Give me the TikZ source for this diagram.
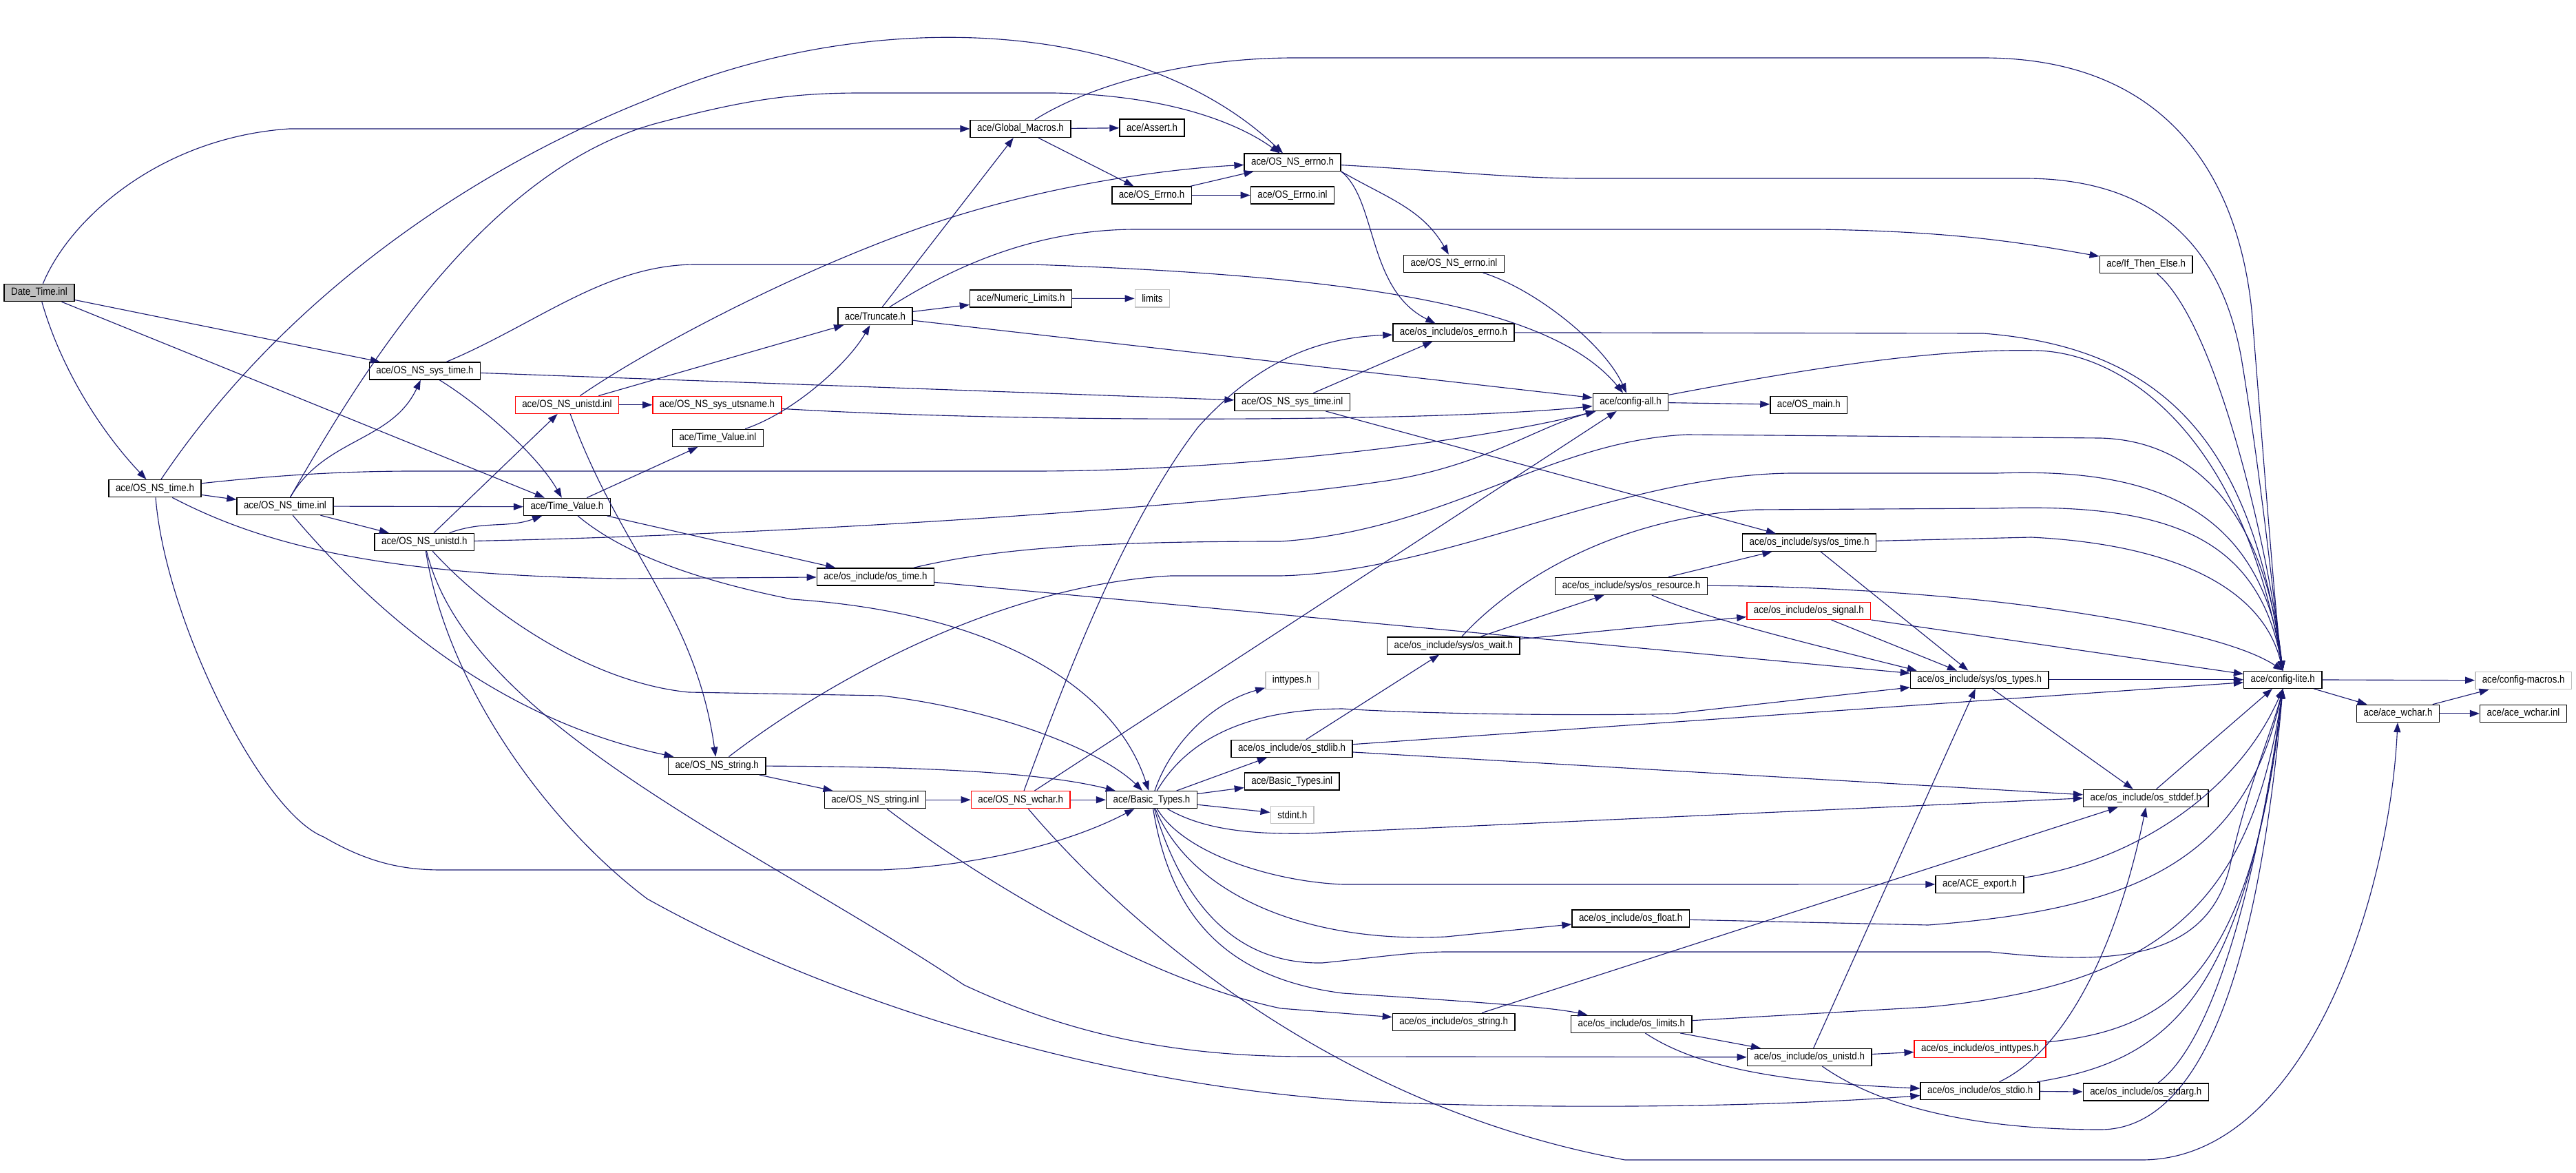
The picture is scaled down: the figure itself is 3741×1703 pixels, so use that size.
\documentclass[tikz,border=0pt]{standalone}
\usepackage{fontspec}
\newfontfamily\dotfont{Liberation Sans}[FakeStretch=0.88]
\usetikzlibrary{arrows.meta}
\definecolor{EdgeClr}{RGB}{25,25,112}
\definecolor{ExtClr}{RGB}{191,191,191}
\definecolor{BrokenClr}{RGB}{255,0,0}

\begin{document}
\begin{tikzpicture}[x=0.01cm,y=-0.01cm,
  file/.style={draw=black,line width=0.4pt,fill=white,inner xsep=1mm,inner ysep=0pt,
    minimum height=2.5mm,font=\dotfont\fontsize{4.3}{5}\selectfont},
  redfile/.style={file,draw=BrokenClr},
  extfile/.style={file,draw=ExtClr},
  mainfile/.style={file,fill=ExtClr},
  dep/.style={draw=EdgeClr,line width=0.32pt,-{Triangle[length=1.4mm,width=1mm]}}]
\useasboundingbox (0,0) rectangle (3741,1703);

\node[mainfile] (dt) at (57,425) {Date\_Time.inl};
\node[file] (nssystimeh) at (617,538.5) {ace/OS\_NS\_sys\_time.h};
\node[file] (gmacros) at (1482,187) {ace/Global\_Macros.h};
\node[file] (assert) at (1673,185.4) {ace/Assert.h};
\node[file] (nserrnoh) at (1877,235.7) {ace/OS\_NS\_errno.h};
\node[file] (errnoh) at (1672.5,283.5) {ace/OS\_Errno.h};
\node[file] (errnoinl) at (1877,283.5) {ace/OS\_Errno.inl};
\node[file] (nserrnoinl) at (2111.5,382.8) {ace/OS\_NS\_errno.inl};
\node[file] (ifthen) at (3116.6,383.9) {ace/If\_Then\_Else.h};
\node[file] (numlim) at (1482.5,433.5) {ace/Numeric\_Limits.h};
\node[extfile] (limits) at (1673.4,433.3) {limits};
\node[file] (trunc) at (1271,459) {ace/Truncate.h};
\node[file] (oserrno) at (2111,482.7) {ace/os\_include/os\_errno.h};
\node[redfile] (nsunistdinl) at (823.4,587.8) {ace/OS\_NS\_unistd.inl};
\node[redfile] (utsname) at (1041.5,587.8) {ace/OS\_NS\_sys\_utsname.h};
\node[file] (nssystimeinl) at (1876.7,583.8) {ace/OS\_NS\_sys\_time.inl};
\node[file] (configall) at (2368,583.8) {ace/config-all.h};
\node[file] (osmain) at (2626.8,587.8) {ace/OS\_main.h};
\node[file] (tvinl) at (1042.4,635.8) {ace/Time\_Value.inl};
\node[file] (nstimeh) at (225,709.2) {ace/OS\_NS\_time.h};
\node[file] (nstimeinl) at (414,735) {ace/OS\_NS\_time.inl};
\node[file] (tvh) at (823.4,735.8) {ace/Time\_Value.h};
\node[file] (nsunistdh) at (616.3,786.9) {ace/OS\_NS\_unistd.h};
\node[file] (ostime) at (1271.4,837.4) {ace/os\_include/os\_time.h};
\node[file] (systime) at (2627.6,787.7) {ace/os\_include/sys/os\_time.h};
\node[file] (resource) at (2369,850.8) {ace/os\_include/sys/os\_resource.h};
\node[redfile] (signal) at (2626.8,886.8) {ace/os\_include/os\_signal.h};
\node[file] (wait) at (2110.9,937.3) {ace/os\_include/sys/os\_wait.h};
\node[extfile] (inttypes) at (1876.4,987.9) {inttypes.h};
\node[file] (systypes) at (2874.7,986.8) {ace/os\_include/sys/os\_types.h};
\node[file] (configlite) at (3315.2,986.8) {ace/config-lite.h};
\node[extfile] (macros) at (3664.7,987.9) {ace/config-macros.h};
\node[file] (acewchar) at (3482.6,1035.9) {ace/ace\_wchar.h};
\node[file] (acewcharinl) at (3664.5,1035.9) {ace/ace\_wchar.inl};
\node[file] (nsstringh) at (1041.2,1111.8) {ace/OS\_NS\_string.h};
\node[file] (stdlib) at (1876.1,1086.8) {ace/os\_include/os\_stdlib.h};
\node[file] (btinl) at (1876.2,1134.4) {ace/Basic\_Types.inl};
\node[file] (nsstringinl) at (1270.9,1161.2) {ace/OS\_NS\_string.inl};
\node[redfile] (nswchar) at (1482.2,1161.2) {ace/OS\_NS\_wchar.h};
\node[file] (bt) at (1672.5,1161.2) {ace/Basic\_Types.h};
\node[extfile] (stdint) at (1876.7,1182.8) {stdint.h};
\node[file] (export) at (2875,1283.9) {ace/ACE\_export.h};
\node[file] (float) at (2368.1,1333.4) {ace/os\_include/os\_float.h};
\node[file] (osstring) at (2111.2,1483.7) {ace/os\_include/os\_string.h};
\node[file] (oslimits) at (2369.3,1486.7) {ace/os\_include/os\_limits.h};
\node[file] (osunistd) at (2627.7,1534.9) {ace/os\_include/os\_unistd.h};
\node[redfile] (osinttypes) at (2875.6,1522.8) {ace/os\_include/os\_inttypes.h};
\node[file] (stddef) at (3116.3,1158.8) {ace/os\_include/os\_stddef.h};
\node[file] (stdio) at (2875.6,1583.9) {ace/os\_include/os\_stdio.h};
\node[file] (stdarg) at (3116.3,1585.6) {ace/os\_include/os\_stdarg.h};

\draw[dep] (dt) .. controls (100,320) and (230,200) .. (420,187) -- (gmacros);
\draw[dep] (dt) -- (nssystimeh);
\draw[dep] (dt) -- (tvh);
\draw[dep] (dt) .. controls (90,540) and (150,630) .. (nstimeh);

\draw[dep] (nssystimeh) -- (nssystimeinl);
\draw[dep] (nssystimeh) .. controls (700,590) and (780,660) .. (tvh);
\draw[dep] (nssystimeh) .. controls (780,470) and (880,384) .. (1010,384) -- (1500,384) .. controls (1950,400) and (2250,440) .. (configall);

\draw[dep] (nstimeh) -- (nstimeinl);
\draw[dep] (nstimeh) .. controls (420,420) and (700,240) .. (940,145) .. controls (1250,10) and (1650,20) .. (nserrnoh);
\draw[dep] (nstimeh) .. controls (400,690) and (500,684) .. (600,684) -- (1500,684) .. controls (1800,684) and (2150,640) .. (configall);
\draw[dep] (nstimeh) .. controls (380,790) and (550,835) .. (900,840) -- (ostime);
\draw[dep] (nstimeh) .. controls (240,900) and (380,1180) .. (470,1215) .. controls (530,1250) and (580,1263) .. (640,1263) -- (1280,1263) .. controls (1450,1255) and (1570,1215) .. (bt);

\draw[dep] (nstimeinl) to[out=60,in=-115] (nssystimeh);
\draw[dep] (nstimeinl) -- (tvh);
\draw[dep] (nstimeinl) -- (nsunistdh);
\draw[dep] (nstimeinl) .. controls (520,550) and (700,250) .. (950,180) .. controls (1080,145) and (1150,135) .. (1250,135) -- (1530,135) .. controls (1700,138) and (1800,180) .. (nserrnoh);
\draw[dep] (nstimeinl) .. controls (520,860) and (700,1040) .. (nsstringh);

\draw[dep] (nsunistdh) -- (nsunistdinl);
\draw[dep] (nsunistdh) to[out=20,in=-160] (tvh);
\draw[dep] (nsunistdh) .. controls (1200,775) and (1800,730) .. (2000,700) .. controls (2150,680) and (2230,620) .. (configall);
\draw[dep] (nsunistdh) .. controls (700,880) and (850,990) .. (1000,1005) -- (1280,1010) .. controls (1450,1030) and (1600,1090) .. (bt);
\draw[dep] (nsunistdh) .. controls (680,1050) and (1100,1230) .. (1400,1430) .. controls (1550,1500) and (1700,1534) .. (1900,1534) -- (osunistd);
\draw[dep] (nsunistdh) .. controls (650,1000) and (800,1200) .. (940,1305) .. controls (1200,1450) and (1600,1580) .. (2000,1600) .. controls (2300,1612) and (2600,1605) .. (stdio);

\draw[dep] (nsunistdinl) -- (utsname);
\draw[dep] (nsunistdinl) -- (trunc);
\draw[dep] (nsunistdinl) .. controls (950,500) and (1200,370) .. (1400,310) .. controls (1550,265) and (1700,245) .. (nserrnoh);
\draw[dep] (nsunistdinl) to[out=-70,in=98] (nsstringh);

\draw[dep] (tvh) -- (tvinl);
\draw[dep] (tvh) -- (ostime);
\draw[dep] (tvh) .. controls (900,800) and (1000,840) .. (1150,870) .. controls (1450,890) and (1620,1000) .. (bt);

\draw[dep] (tvinl) .. controls (1150,600) and (1230,530) .. (trunc);
\draw[dep] (utsname) .. controls (1500,615) and (2100,612) .. (configall);
\draw[dep] (nssystimeinl) -- (oserrno);
\draw[dep] (nssystimeinl) -- (systime);

\draw[dep] (trunc) -- (gmacros);
\draw[dep] (trunc) -- (numlim);
\draw[dep] (trunc) .. controls (1380,390) and (1500,333) .. (1650,333) -- (2640,333) .. controls (2850,336) and (2950,355) .. (ifthen);
\draw[dep] (trunc) -- (configall);
\draw[dep] (numlim) -- (limits);

\draw[dep] (gmacros) -- (assert);
\draw[dep] (gmacros) -- (errnoh);
\draw[dep] (gmacros) .. controls (1580,125) and (1720,84) .. (1880,84) -- (2880,84) .. controls (3150,84) and (3250,260) .. (3270,450) .. controls (3290,700) and (3305,900) .. (configlite.north);
\draw[dep] (errnoh) -- (nserrnoh);
\draw[dep] (errnoh) -- (errnoinl);

\draw[dep] (nserrnoh) .. controls (2100,248) and (2200,259) .. (2300,259) -- (2940,259) .. controls (3150,259) and (3230,380) .. (3255,520) .. controls (3285,700) and (3305,900) .. (configlite.north);
\draw[dep] (nserrnoh.south east) to[out=-30,in=120] (nserrnoinl);
\draw[dep] (nserrnoh.south east) .. controls (2000,290) and (1985,420) .. (oserrno);
\draw[dep] (nserrnoinl) .. controls (2230,420) and (2330,500) .. (configall);
\draw[dep] (ifthen) .. controls (3220,470) and (3295,800) .. (configlite.north);
\draw[dep] (oserrno) -- (2880,484) .. controls (3150,505) and (3270,650) .. (configlite.north);

\draw[dep] (configall) -- (osmain);
\draw[dep] (configall) .. controls (2600,540) and (2800,505) .. (2960,509) .. controls (3100,515) and (3260,650) .. (configlite.north);

\draw[dep] (nsstringh) -- (nsstringinl);
\draw[dep] (nsstringh) .. controls (1300,1113) and (1500,1118) .. (bt);
\draw[dep] (nsstringh) .. controls (1200,990) and (1450,850) .. (1700,836) -- (1860,836) .. controls (2100,830) and (2350,690) .. (2600,687) -- (2900,687) .. controls (3100,680) and (3280,720) .. (configlite.north);
\draw[dep] (nsstringinl) -- (nswchar);
\draw[dep] (nsstringinl) .. controls (1400,1260) and (1650,1420) .. (1860,1464) -- (osstring);

\draw[dep] (nswchar) -- (bt);
\draw[dep] (nswchar) -- (configall);
\draw[dep] (nswchar) .. controls (1560,950) and (1640,750) .. (1740,620) .. controls (1830,520) and (1920,490) .. (oserrno);
\draw[dep] (nswchar) .. controls (1600,1300) and (1900,1600) .. (2360,1684) -- (3110,1684) .. controls (3350,1684) and (3470,1300) .. (acewchar);

\draw[dep] (bt) -- (btinl);
\draw[dep] (bt) -- (stdint);
\draw[dep] (bt) .. controls (1700,1080) and (1760,1020) .. (inttypes);
\draw[dep] (bt) .. controls (1720,1080) and (1800,1030) .. (1950,1029) .. controls (2050,1036) and (2300,1040) .. (2430,1036) -- (systypes);
\draw[dep] (bt) -- (stdlib);
\draw[dep] (bt) .. controls (1740,1200) and (1800,1212) .. (1900,1210) -- (stddef.west);
\draw[dep] (bt) .. controls (1720,1240) and (1850,1280) .. (1950,1284) -- (export);
\draw[dep] (bt) .. controls (1730,1300) and (1900,1370) .. (2100,1360) -- (float);
\draw[dep] (bt) .. controls (1720,1320) and (1800,1400) .. (1920,1398) .. controls (2000,1390) and (2050,1382) .. (2100,1382) -- (2890,1382) .. controls (3060,1400) and (3210,1400) .. (3240,1250) .. controls (3265,1140) and (3300,1060) .. (configlite.south);
\draw[dep] (bt) .. controls (1700,1330) and (1780,1420) .. (1950,1442) .. controls (2150,1455) and (2250,1462) .. (oslimits);

\draw[dep] (ostime) .. controls (1450,795) and (1600,786) .. (1860,786) .. controls (2100,770) and (2250,640) .. (2450,631) -- (3050,636) .. controls (3200,640) and (3290,760) .. (configlite.north);
\draw[dep] (ostime) -- (systypes);

\draw[dep] (systime) -- (2950,780) .. controls (3150,790) and (3285,850) .. (configlite.north);
\draw[dep] (systime) -- (systypes);
\draw[dep] (resource) -- (systime);
\draw[dep] (resource) .. controls (2600,850) and (2800,860) .. (2950,880) .. controls (3100,900) and (3250,930) .. (configlite.north);
\draw[dep] (resource) .. controls (2480,900) and (2650,940) .. ([xshift=1mm]systypes.north west);
\draw[dep] (signal) -- (configlite);
\draw[dep] (signal) -- (systypes);
\draw[dep] (wait) -- (resource);
\draw[dep] (wait) -- (signal);
\draw[dep] (wait) .. controls (2200,840) and (2350,750) .. (2550,740) -- (2900,738) .. controls (3150,730) and (3280,780) .. (configlite.north);

\draw[dep] (stdlib) -- (wait);
\draw[dep] (stdlib) -- (configlite);
\draw[dep] (stdlib) -- ([yshift=0.5mm]stddef.west);
\draw[dep] (systypes) -- (configlite);
\draw[dep] (systypes) -- (stddef);
\draw[dep] (stddef) -- (configlite);
\draw[dep] (export) .. controls (3100,1250) and (3250,1150) .. (configlite.south);
\draw[dep] (float) -- (2800,1343) .. controls (3100,1320) and (3260,1250) .. (configlite.south);
\draw[dep] (osstring) -- (stddef);

\draw[dep] (oslimits) -- (osunistd);
\draw[dep] (oslimits) .. controls (2450,1540) and (2550,1570) .. (stdio);
\draw[dep] (oslimits) -- (2800,1462) .. controls (3150,1430) and (3270,1300) .. (configlite.south);
\draw[dep] (osunistd) -- (osinttypes);
\draw[dep] (osunistd) -- (systypes);
\draw[dep] (osunistd) .. controls (2720,1600) and (2850,1640) .. (3050,1640) .. controls (3200,1640) and (3280,1400) .. (configlite.south);
\draw[dep] (osinttypes) .. controls (3150,1495) and (3270,1420) .. (configlite.south);
\draw[dep] (stdio) -- (stdarg);
\draw[dep] (stdio) .. controls (3010,1520) and (3080,1350) .. (stddef.south);
\draw[dep] (stdio) .. controls (3150,1540) and (3260,1450) .. (configlite.south);
\draw[dep] (stdarg) .. controls (3230,1500) and (3290,1200) .. (configlite.south);

\draw[dep] (configlite) -- (macros);
\draw[dep] (configlite) -- (acewchar);
\draw[dep] (acewchar) -- (macros);
\draw[dep] (acewchar) -- (acewcharinl);
\end{tikzpicture}
\end{document}
